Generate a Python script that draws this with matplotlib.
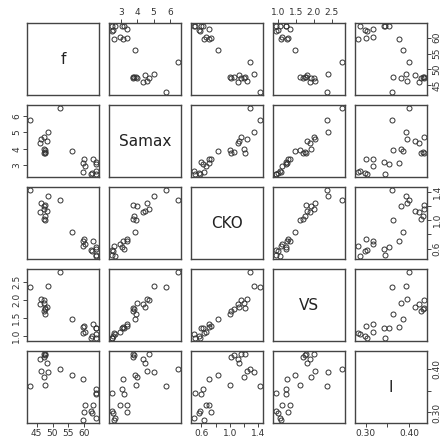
import matplotlib
matplotlib.use("Agg")
import matplotlib.pyplot as plt

names = ["f", "Samax", "CKO", "VS", "I"]
f = [42.8, 52.4, 48.6, 47.3, 46.5, 48.4, 46.1, 47.3, 47.7, 47.5, 47.6, 47.4,
     56.0, 59.7, 63.6, 63.8, 63.8, 60.2, 62.6, 60.0, 62.2, 62.5, 63.6, 59.5]
samax = [5.78, 6.5, 5.0, 4.70, 4.57, 4.45, 4.33, 4.0, 3.91, 3.79, 3.75, 3.75,
         3.85, 3.12, 3.07, 3.17, 2.50, 2.94, 3.38, 3.40, 2.45, 2.55, 2.65, 2.60]
cko = [1.43, 1.29, 1.34, 1.16, 1.24, 1.13, 1.12, 1.20, 1.00, 1.06, 1.22, 1.02,
       0.835, 0.70, 0.62, 0.60, 0.51, 0.66, 0.70, 0.74, 0.58, 0.56, 0.49, 0.64]
vs = [2.36, 2.80, 2.41, 2.01, 2.02, 1.82, 1.89, 1.92, 1.60, 1.75, 1.79, 1.71,
      1.47, 1.25, 1.23, 1.22, 0.95, 1.12, 1.33, 1.28, 0.93, 1.00, 1.05, 1.08]
i_val = [0.360, 0.399, 0.392, 0.435, 0.396, 0.413, 0.423, 0.382, 0.362, 0.431,
         0.435, 0.428, 0.385, 0.377, 0.353, 0.343, 0.344, 0.317, 0.317, 0.302,
         0.303, 0.298, 0.287, 0.282]

ticks = [[45, 50, 55, 60], [3, 4, 5, 6], [0.6, 0.8, 1.0, 1.2, 1.4],
         [1.0, 1.5, 2.0, 2.5], [0.30, 0.35, 0.40]]
tick_labels = [["45", "50", "55", "60"], ["3", "4", "5", "6"],
               ["0.6", "", "1.0", "", "1.4"], ["1.0", "1.5", "2.0", "2.5"],
               ["0.30", "", "0.40"]]

data = [f, samax, cko, vs, i_val]
n = len(data)

W, H = 442, 448
fig = plt.figure(figsize=(W / 100, H / 100), dpi=100)

left0, top0, pitch, size = 27, 23, 82, 72
frame_col = "#444444"
text_col = "#333333"


def lims(v):
    lo, hi = min(v), max(v)
    r = hi - lo
    return lo - 0.04 * r, hi + 0.04 * r


for row in range(n):
    for col in range(n):
        x0 = left0 + col * pitch
        y0 = top0 + row * pitch
        ax = fig.add_axes([x0 / W, 1 - (y0 + size) / H, size / W, size / H])
        for s in ax.spines.values():
            s.set_color(frame_col)
            s.set_linewidth(1.0)
        ax.set_xlim(lims(data[col]))
        ax.set_ylim(lims(data[row]))
        ax.set_xticks([])
        ax.set_yticks([])
        if row == col:
            ax.text(0.5, 0.5, names[row], transform=ax.transAxes,
                    ha="center", va="center", fontsize=11, color="#222222")
        else:
            ax.plot(data[col], data[row], "o", mfc="none", mec="#333333",
                    mew=0.7, ms=3.6, ls="none")

        kw = dict(direction="out", length=3, width=0.7, colors=frame_col,
                  labelsize=6.5, labelcolor=text_col, pad=1)
        # R pairs() style alternating axes
        if row == 0 and col % 2 == 1:
            ax.set_xticks(ticks[col])
            ax.set_xticklabels(tick_labels[col])
            ax.tick_params(axis="x", top=True, bottom=False, labeltop=True,
                           labelbottom=False, **kw)
        if row == n - 1 and col % 2 == 0:
            ax.set_xticks(ticks[col])
            ax.set_xticklabels(tick_labels[col])
            ax.tick_params(axis="x", **kw)
        if col == 0 and row % 2 == 1:
            ax.set_yticks(ticks[row])
            ax.set_yticklabels(tick_labels[row], rotation=90, va="center")
            ax.tick_params(axis="y", **kw)
        if col == n - 1 and row % 2 == 0:
            ax.set_yticks(ticks[row])
            ax.set_yticklabels(tick_labels[row], rotation=90, va="center")
            ax.tick_params(axis="y", left=False, right=True, labelleft=False,
                           labelright=True, **kw)

fig.savefig("out.png", dpi=100)
